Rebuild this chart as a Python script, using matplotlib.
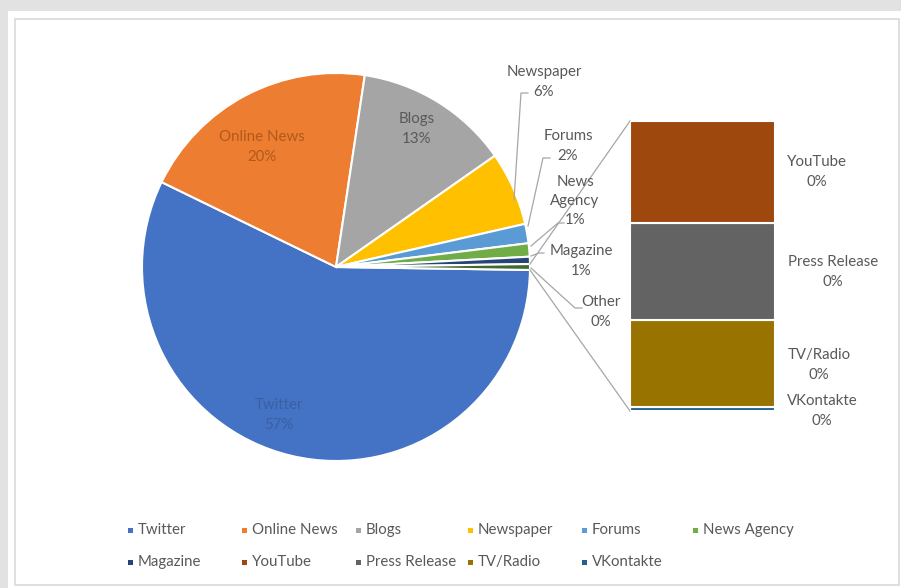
import numpy as np
import matplotlib
matplotlib.use("Agg")
import matplotlib.pyplot as plt
from matplotlib.patches import Rectangle

plt.rcParams["font.family"] = ["Lato", "DejaVu Sans"]

# ── data ─────────────────────────────────────────────────────────
pie_names = ["Twitter", "Online News", "Blogs", "Newspaper", "Forums",
             "News Agency", "Magazine"]
pie_values = [56.5, 20.0, 12.8, 6.1, 1.6, 1.1, 0.6]
pie_colors = ["#4472C4", "#ED7D31", "#A5A5A5", "#FFC000", "#5B9BD5",
              "#70AD47", "#264478"]

bar_names = ["VKontakte", "TV/Radio", "Press Release", "YouTube"]   # bottom -> top
bar_values = [0.007, 0.145, 0.16, 0.17]
bar_colors = ["#255E91", "#997300", "#636363", "#9E480E"]
other_color = "#43682B"

legend_names = ["Twitter", "Online News", "Blogs", "Newspaper", "Forums",
                "News Agency", "Magazine", "YouTube", "Press Release",
                "TV/Radio", "VKontakte"]
legend_colors = pie_colors + ["#9E480E", "#636363", "#997300", "#255E91"]

GREY_TXT = "#595959"
LINE = "#A6A6A6"
FS = 10.8
LS = 1.5
W, H = 901, 588

other_total = sum(bar_values)
values = pie_values + [other_total]
total = sum(values)
pcts = [v / total * 100 for v in values]

def P(y):  # picture y (top-down) -> axes y
    return H - y

fig = plt.figure(figsize=(W / 100, H / 100), dpi=100, facecolor="#E2E2E2")
ax = fig.add_axes([0, 0, 1, 1])

# ── pie ──────────────────────────────────────────────────────────
cx, cy, R = 336, P(267), 194
w_other = pcts[-1] * 3.6
start = -w_other / 2
wedges, _ = ax.pie(values, colors=pie_colors + [other_color], startangle=start,
                   counterclock=False, center=(cx, cy), radius=R,
                   wedgeprops=dict(edgecolor="white", linewidth=1.5))
for w in wedges:
    w.set_zorder(3)

ax.set_xlim(0, W); ax.set_ylim(0, H); ax.axis("off")
ax.set_aspect("auto")

# frame
ax.add_patch(Rectangle((8, 0), W - 8, P(11), fc="white", ec="none", zorder=0))
ax.add_patch(Rectangle((15, P(585)), 884, 566, fc="none", ec="#D9D9D9",
                       lw=1.2, zorder=1))

def lbl(i):
    return f"{int(round(pcts[i]))}%"

inside = [(0, 279, 415, "#3B5FA0"), (1, 262, 147, "#B05A1C"), (2, 417, 129, GREY_TXT)]
for i, x, y, c in inside:
    ax.text(x, P(y), f"{pie_names[i]}\n{lbl(i)}", ha="center", va="center",
            fontsize=FS, color=c, linespacing=LS, zorder=5)

outside = [
    (3, 544, 82, "Newspaper", [(514, 200), (521, 93), (528, 93)]),
    (4, 568, 146, "Forums", [(528, 226), (543, 158), (550, 158)]),
    (5, 575, 201, "News\nAgency", [(531, 246), (558, 223), (564, 223)]),
    (6, 581, 261, "Magazine", [(531, 256), (539, 253), (544, 253)]),
]
for i, x, y, name, pts in outside:
    ax.text(x, P(y), f"{name}\n{lbl(i)}", ha="center", va="center",
            fontsize=FS, color=GREY_TXT, linespacing=LS, zorder=5)
    xs, ys = zip(*pts)
    ax.plot(xs, [P(v) for v in ys], color=LINE, lw=0.9, zorder=4)

ax.text(601, P(312), f"Other\n{lbl(7)}", ha="center", va="center",
        fontsize=FS, color=GREY_TXT, linespacing=LS, zorder=5)
ax.plot([531, 575, 582], [P(268), P(308), P(308)], color=LINE, lw=0.9, zorder=4)

# ── bar of pie ───────────────────────────────────────────────────
bx0, bx1, by_top, by_bot = 630, 775, 121, 411
bax = fig.add_axes([bx0 / W, P(by_bot) / H, (bx1 - bx0) / W, (by_bot - by_top) / H])
bax.set_xlim(-0.5, 0.5); bax.set_ylim(0, other_total); bax.axis("off")
bottom = 0
for name, v, c in zip(bar_names, bar_values, bar_colors):
    bax.bar(0, v, width=1.0, bottom=bottom, color=c, edgecolor="white", linewidth=1.5)
    bottom += v

bar_lbl = {"YouTube": (817, 172), "Press Release": (833, 272),
           "TV/Radio": (819, 365), "VKontakte": (822, 411)}
for name, v in zip(bar_names, bar_values):
    x, y = bar_lbl[name]
    ax.text(x, P(y), f"{name}\n{int(round(v / total * 100))}%", ha="center",
            va="center", fontsize=FS, color=GREY_TXT, linespacing=LS, zorder=5)

# connector lines from the Other slice to the bar
a_top = np.deg2rad(start + w_other)
a_bot = np.deg2rad(start)
ax.plot([cx + R * np.cos(a_top), bx0], [cy + R * np.sin(a_top), P(by_top)],
        color=LINE, lw=0.9, zorder=4)
ax.plot([cx + R * np.cos(a_bot), bx0], [cy + R * np.sin(a_bot), P(by_bot)],
        color=LINE, lw=0.9, zorder=4)

# ── legend ───────────────────────────────────────────────────────
col_x = [130, 244, 358, 470, 584, 695]
row_y = [530, 562]
for k, (name, c) in enumerate(zip(legend_names, legend_colors)):
    r, col = divmod(k, 6)
    x, y = col_x[col], row_y[r]
    ax.add_patch(Rectangle((x - 2.5, P(y) - 2.5), 5, 5, fc=c, ec="none", zorder=5))
    ax.text(x + 8, P(y), name, ha="left", va="center", fontsize=FS,
            color=GREY_TXT, zorder=5)

plt.savefig("out.png", dpi=100, facecolor=fig.get_facecolor())
